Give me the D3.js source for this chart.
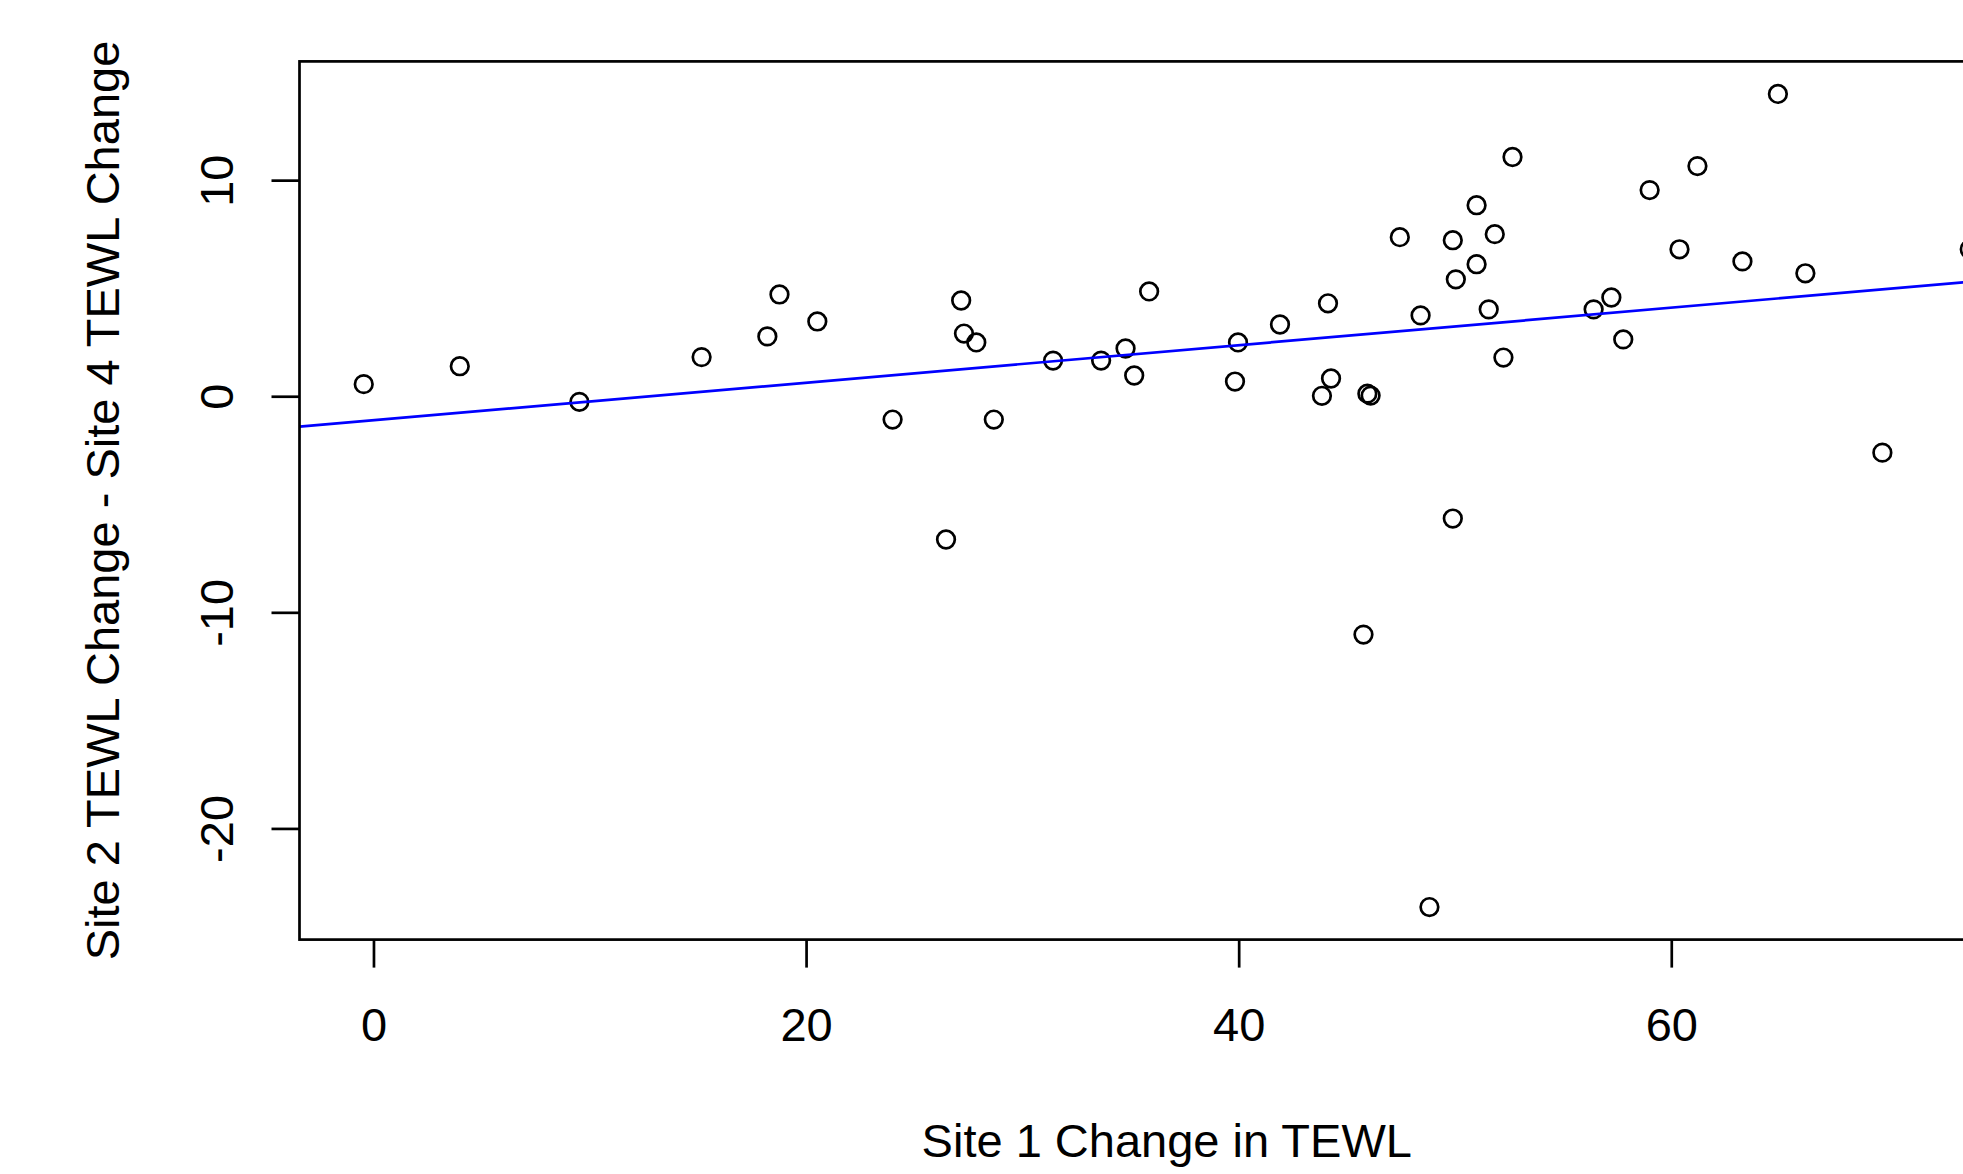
<!DOCTYPE html>
<html>
<head>
<meta charset="utf-8">
<script src="https://cdnjs.cloudflare.com/ajax/libs/d3/7.8.5/d3.min.js"></script>
<style>
    body { margin: 0; background: #fff; }
    text { font-family: "Liberation Sans", Arial, sans-serif; }
</style>
</head>
<body>
<div id="chart"></div>
<script>
// Site 1 change (x) and Site 2 - Site 4 change (y)
var site1Change = [-0.45, 3.99, 9.52, 15.17, 18.21, 18.77, 20.52, 24.00, 26.47, 27.17,
    27.30, 27.87, 28.68, 31.42, 33.64, 34.77, 35.17, 35.86, 39.83, 39.97,
    41.91, 43.85, 44.13, 44.27, 45.77, 45.95, 46.10, 47.45, 48.41, 48.82,
    49.90, 49.90, 50.04, 51.00, 51.00, 51.56, 51.84, 52.24, 52.66, 56.41,
    57.23, 57.78, 59.00, 60.38, 61.21, 63.29, 64.93, 66.20, 69.76, 73.80];

var siteDiffChange = [0.56, 1.39, -0.26, 1.81, 2.77, 4.71, 3.46, -1.08, -6.63, 4.43,
    2.90, 2.49, -1.08, 1.65, 1.65, 2.21, 0.96, 4.85, 0.68, 2.49,
    3.32, 0.02, 4.30, 0.82, -11.03, 0.12, 0.03, 7.36, 3.74, -23.64,
    7.22, -5.66, 5.41, 8.84, 6.11, 4.02, 7.50, 1.79, 11.07, 4.02,
    4.57, 2.63, 9.54, 6.80, 10.65, 6.24, 13.99, 5.69, -2.61, 6.80];

var xTicks = [0, 20, 40, 60];
var yTicks = [-20, -10, 0, 10];

// abline(lm(...)): intercept, slope
var fitCoef = [-1.11, 0.0868];

var xLabel = "Site 1 Change in TEWL";
var yLabel = "Site 2 TEWL Change - Site 4 TEWL Change";

var width = 1963,
    height = 1174;

var box = { left: 299.5, top: 61.4, right: 2034, bottom: 939.6 };
var lineW = 2.7,
    fontSize = 47;

var points = site1Change.map(function (d, i) { return [d, siteDiffChange[i]]; });

var svg = d3.select("#chart")
    .append("svg")
    .attr("width", width)
    .attr("height", height);

// R style limits: data range padded by 4%
function padded(ext) {
    var p = (ext[1] - ext[0]) * 0.04;
    return [ext[0] - p, ext[1] + p];
}

var xScale = d3.scaleLinear()
    .domain(padded(d3.extent(site1Change)))
    .range([box.left, box.right]);

var yScale = d3.scaleLinear()
    .domain(padded(d3.extent(siteDiffChange)))
    .range([box.bottom, box.top]);

svg.append("clipPath")
    .attr("id", "plotClip")
    .append("rect")
    .attr("x", box.left)
    .attr("y", box.top)
    .attr("width", box.right - box.left)
    .attr("height", box.bottom - box.top);

// x axis
var xAxis = svg.append("g")
    .attr("transform", "translate(0," + box.bottom + ")")
    .call(d3.axisBottom(xScale)
        .tickValues(xTicks)
        .tickSize(28)
        .tickPadding(40)
        .tickFormat(function (d) { return String(d); }));

// y axis
var yAxis = svg.append("g")
    .attr("transform", "translate(" + box.left + ",0)")
    .call(d3.axisLeft(yScale)
        .tickValues(yTicks)
        .tickSize(28)
        .tickFormat(function (d) { return String(d); }));

[xAxis, yAxis].forEach(function (g) {
    g.select(".domain").remove();
    g.attr("font-size", null).attr("font-family", null);
    g.selectAll(".tick line")
        .attr("stroke", "#000")
        .attr("stroke-width", lineW);
    g.selectAll(".tick text")
        .attr("fill", "#000")
        .style("font-size", fontSize + "px");
});

// R draws y tick labels parallel to the axis
yAxis.selectAll(".tick text")
    .attr("x", 0)
    .attr("dy", 0)
    .attr("text-anchor", "middle")
    .attr("transform", "translate(-67,0) rotate(-90)");

// points
svg.append("g")
    .attr("clip-path", "url(#plotClip)")
    .selectAll("circle")
    .data(points)
    .enter()
    .append("circle")
    .attr("cx", function (d) { return xScale(d[0]); })
    .attr("cy", function (d) { return yScale(d[1]); })
    .attr("r", 8.8)
    .attr("fill", "none")
    .attr("stroke", "#000")
    .attr("stroke-width", lineW);

// fitted line
var lineFunction = d3.line()
    .x(function (d) { return xScale(d); })
    .y(function (d) { return yScale(fitCoef[0] + fitCoef[1] * d); });

svg.append("path")
    .attr("clip-path", "url(#plotClip)")
    .attr("d", lineFunction(xScale.domain()))
    .attr("fill", "none")
    .attr("stroke", "#0000FF")
    .attr("stroke-width", lineW);

// plot box
svg.append("rect")
    .attr("x", box.left)
    .attr("y", box.top)
    .attr("width", box.right - box.left)
    .attr("height", box.bottom - box.top)
    .attr("fill", "none")
    .attr("stroke", "#000")
    .attr("stroke-width", lineW);

// axis titles
svg.append("text")
    .attr("x", (box.left + box.right) / 2)
    .attr("y", 1157)
    .attr("text-anchor", "middle")
    .style("font-size", fontSize + "px")
    .text(xLabel);

svg.append("text")
    .attr("transform", "translate(119," + (box.top + box.bottom) / 2 + ") rotate(-90)")
    .attr("text-anchor", "middle")
    .style("font-size", fontSize + "px")
    .text(yLabel);
</script>
</body>
</html>
